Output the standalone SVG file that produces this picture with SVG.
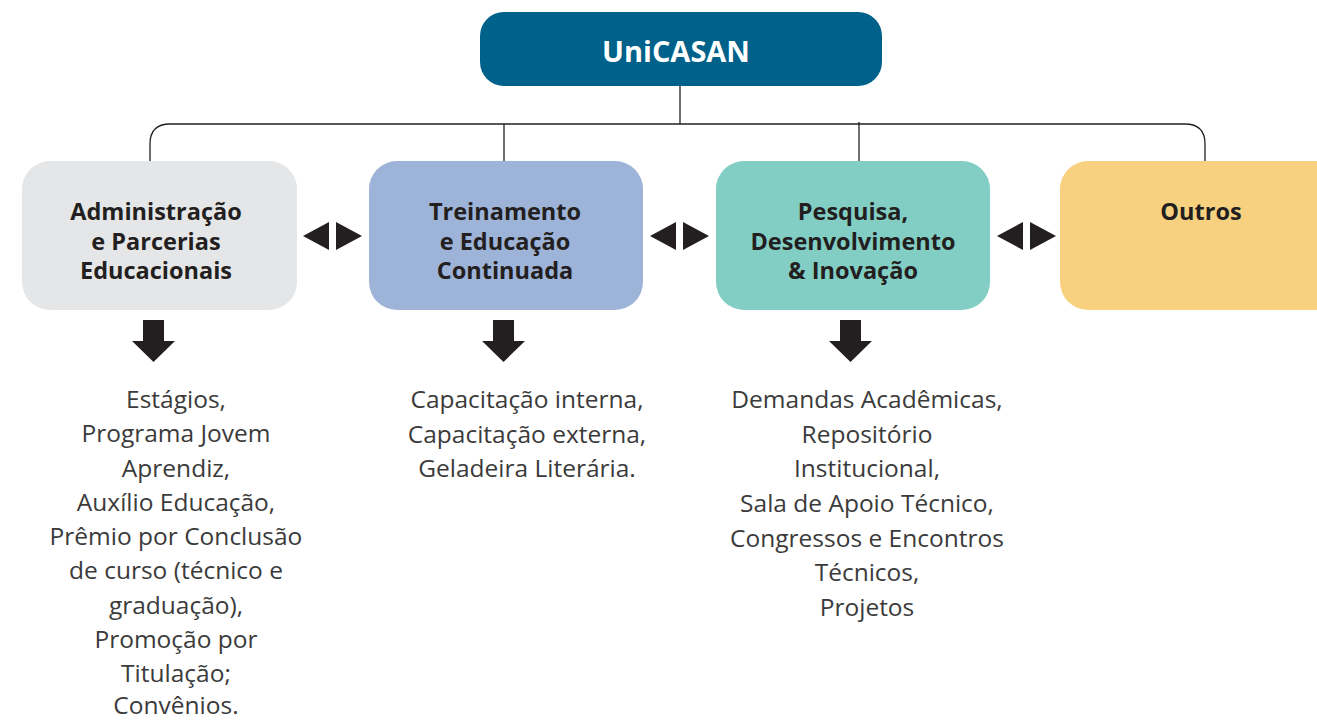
<svg xmlns="http://www.w3.org/2000/svg" width="1317" height="721" viewBox="0 0 1317 721">
<style>
.h{font-family:"Open Sans","Liberation Sans",sans-serif;font-weight:700;font-size:23.5px;fill:#231f20;text-anchor:middle;dominant-baseline:central}
.t{font-family:"Open Sans","Liberation Sans",sans-serif;font-weight:400;font-size:24.5px;fill:#3b3b3b;text-anchor:middle;dominant-baseline:central}
.c{fill:none;stroke:#231f20;stroke-width:1.3}
.a{fill:#231f20}
</style>
<rect width="1317" height="721" fill="#ffffff"/>
<g id="connectors">
<path class="c" d="M680 86 V124"/>
<path class="c" d="M150 161 V144 Q150 124 170 124 H1185 Q1205 124 1205 144 V161"/>
<path class="c" d="M504 124 V161"/>
<path class="c" d="M859 122 V161"/>
<g id="lr-arrows">
<polygon class="a" points="303,236 329,222 329,250"/>
<polygon class="a" points="362,236 336,222 336,250"/>
<polygon class="a" points="650,236 676,222 676,250"/>
<polygon class="a" points="709,236 683,222 683,250"/>
<polygon class="a" points="997,236 1023,222 1023,250"/>
<polygon class="a" points="1056,236 1030,222 1030,250"/>
</g>
<g id="down-arrows">
<polygon class="a" points="143,320 164,320 164,341 175,341 153.5,362 132,341 143,341"/>
<polygon class="a" points="493,320 514,320 514,341 525,341 503.5,362 482,341 493,341"/>
<polygon class="a" points="840,320 861,320 861,341 872,341 850.5,362 829,341 840,341"/>
</g>
</g>
<g id="root">
<rect x="480" y="12" width="402" height="74" rx="24" fill="#00618a"/>
<text class="h" x="676" y="50" style="fill:#ffffff;font-size:29px">UniCASAN</text>
</g>
<g id="admin">
<rect x="22" y="161" width="275" height="149" rx="28" fill="#e5e6e8"/>
<text class="h" x="156" y="211">Administração</text>
<text class="h" x="156" y="241">e Parcerias</text>
<text class="h" x="156" y="270">Educacionais</text>
</g>
<g id="treinamento">
<rect x="369" y="161" width="274" height="149" rx="28" fill="#9db3d8"/>
<text class="h" x="505" y="211">Treinamento</text>
<text class="h" x="505" y="241">e Educação</text>
<text class="h" x="505" y="270">Continuada</text>
</g>
<g id="pesquisa">
<rect x="716" y="161" width="274" height="149" rx="28" fill="#82cec5"/>
<text class="h" x="853" y="211">Pesquisa,</text>
<text class="h" x="853" y="241">Desenvolvimento</text>
<text class="h" x="853" y="270">&amp; Inovação</text>
</g>
<g id="outros">
<rect x="1060" y="161" width="290" height="149" rx="28" fill="#f7d17f"/>
<text class="h" x="1201" y="211">Outros</text>
</g>
<g id="admin-items">
<text class="t" x="176" y="398">Estágios,</text>
<text class="t" x="176" y="432.5">Programa Jovem</text>
<text class="t" x="176" y="467">Aprendiz,</text>
<text class="t" x="176" y="501">Auxílio Educação,</text>
<text class="t" x="176" y="535.5">Prêmio por Conclusão</text>
<text class="t" x="176" y="569.5">de curso (técnico e</text>
<text class="t" x="176" y="604">graduação),</text>
<text class="t" x="176" y="638">Promoção por</text>
<text class="t" x="176" y="672">Titulação;</text>
<text class="t" x="176" y="704">Convênios.</text>
</g>
<g id="treinamento-items">
<text class="t" x="527" y="398">Capacitação interna,</text>
<text class="t" x="527" y="433">Capacitação externa,</text>
<text class="t" x="527" y="467">Geladeira Literária.</text>
</g>
<g id="pesquisa-items">
<text class="t" x="867" y="398">Demandas Acadêmicas,</text>
<text class="t" x="867" y="433">Repositório</text>
<text class="t" x="867" y="467">Institucional,</text>
<text class="t" x="867" y="502">Sala de Apoio Técnico,</text>
<text class="t" x="867" y="537">Congressos e Encontros</text>
<text class="t" x="867" y="571">Técnicos,</text>
<text class="t" x="867" y="606">Projetos</text>
</g>
</svg>
